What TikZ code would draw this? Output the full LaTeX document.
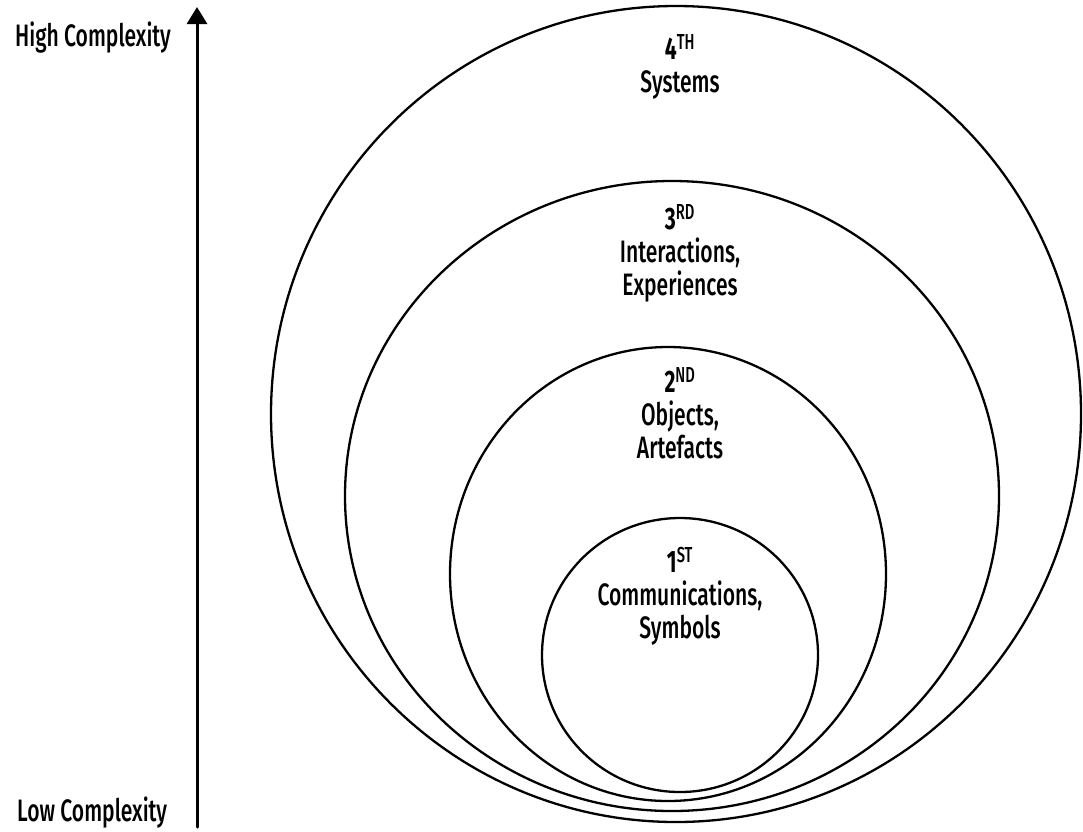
\documentclass[tikz,border=0pt]{standalone}
\usepackage{fontspec}
\setmainfont{FiraSans-Medium}[FakeStretch=0.68, BoldFont=FiraSans-Bold]
\usetikzlibrary{arrows.meta}

\tikzset{
  ring/.style={line width=2.3pt},
  ordinal/.style={align=center, inner sep=0pt, anchor=base},
  sidelabel/.style={inner sep=0pt, anchor=base west}
}

\newcommand{\rank}[2]{{\bfseries #1}\textsuperscript{#2}}

\begin{document}
\begin{tikzpicture}[
  x=1pt, y=-1pt,
  every node/.style={font=\fontsize{31}{33}\selectfont},
  line cap=round,
  line join=round
  ]

  \useasboundingbox (0,0) rectangle (1083,831);

  % Rings, outermost first
  \foreach \cx/\cy/\rx/\ry in {
    676/414/405/408,
    672/496/327/315,
    668/574/218/227,
    680/655/138/137
  }
  {
    \draw[ring] (\cx,\cy) ellipse [x radius=\rx, y radius=\ry];
  }

  % Ring labels (placed at the baseline of their last line)
  \node[ordinal] (fourth) at (680,92)  {\rank{4}{TH}\\Systems};
  \node[ordinal] (third)  at (680,295) {\rank{3}{RD}\\Interactions,\\Experiences};
  \node[ordinal] (second) at (680,458) {\rank{2}{ND}\\Objects,\\Artefacts};
  \node[ordinal] (first)  at (680,638) {\rank{1}{ST}\\Communications,\\Symbols};

  % Complexity axis
  \coordinate (low)  at (197,827);
  \coordinate (high) at (197,7);
  \draw[line width=3pt, -{Triangle[width=20pt, length=17pt]}] (low) -- (high);

  \node[sidelabel] (highlab) at (15,46)  {High Complexity};
  \node[sidelabel] (lowlab)  at (17,821) {Low Complexity};

\end{tikzpicture}
\end{document}
